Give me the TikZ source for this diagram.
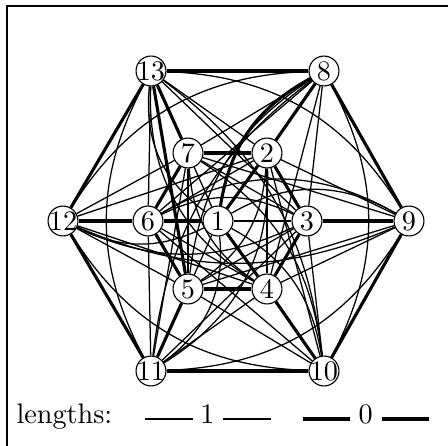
\documentclass[tikz,border=0pt]{standalone}
\pgfdeclarelayer{bg}
\pgfsetlayers{bg,main}
\begin{document}
\begin{tikzpicture}[x=0.3546pt,y=0.3546pt,
  v/.style={circle,draw,fill=white,minimum size=10.6pt,inner sep=0pt,line width=0.4pt},
  e1/.style={line width=0.45pt},
  e0/.style={line width=1.1pt},
  frame/.style={line width=0.75pt}]
\useasboundingbox (0,0) rectangle (448,-446);
\draw[frame] (7,-470) -- (7,-6) -- (470,-6);
\node[v] (n1) at (218,-221) {\makebox[0pt]{1}};
\node[v] (n2) at (267,-153) {\makebox[0pt]{2}};
\node[v] (n3) at (307,-221) {\makebox[0pt]{3}};
\node[v] (n4) at (267,-289) {\makebox[0pt]{4}};
\node[v] (n5) at (188,-289) {\makebox[0pt]{5}};
\node[v] (n6) at (148,-221) {\makebox[0pt]{6}};
\node[v] (n7) at (188,-153) {\makebox[0pt]{7}};
\node[v] (n8) at (324,-71) {\makebox[0pt]{8}};
\node[v] (n9) at (409,-221) {\makebox[0pt]{9}};
\node[v] (n10) at (324,-371) {\makebox[0pt]{10}};
\node[v] (n11) at (151,-371) {\makebox[0pt]{11}};
\node[v] (n12) at (63,-221) {\makebox[0pt]{12}};
\node[v] (n13) at (151,-71) {\makebox[0pt]{13}};
\begin{pgfonlayer}{bg}
% thick, straight
\foreach \a/\b in {13/8,8/9,9/10,10/11,11/12,12/13,2/8,3/9,4/10,5/11,6/12,7/13,2/3,3/4,4/5,5/6,6/7,7/2,1/2,1/4,1/6,13/5}
  \draw[e0] (n\a) -- (n\b);
% thin, straight
\foreach \a/\b in {1/3,1/5,1/7,2/4,2/6,4/6,3/5,3/7,5/7,
  7/8,7/9,7/11,7/12, 2/9,2/10,2/12,2/13, 3/8,3/10,3/11,3/13,
  4/8,4/9,4/11,4/12, 5/9,5/10,5/12, 6/8,6/10,6/11,6/13}
  \draw[e1] (n\a) -- (n\b);
% thick, bent
\draw[e0] (n8) to[bend right=26] (n1);
% thin, bent: row 12-6-1-3-9 and its rotations by 120 degrees
\foreach \a/\b/\t in {12/1/26,12/3/25,12/9/23,
  8/5/25,8/11/23,
  10/1/26,10/7/25,10/13/23}
  \draw[e1] (n\a) to[bend right=\t] (n\b);
\foreach \a/\b/\t in {6/9/30,1/9/30,6/3/26,
  2/11/30,1/11/30,2/5/26,
  4/13/30,1/13/30,4/7/26}
  \draw[e1] (n\a) to[bend left=\t] (n\b);
% outer vertices two apart, bulging outward
\foreach \a/\b in {13/11,11/9,9/13,12/10,10/8,8/12}
  \draw[e1] (n\a) to[bend right=28] (n\b);
\end{pgfonlayer}
% legend
\node[anchor=base west,inner sep=0pt] (lg) at (16,-424) {lengths:};
\node[anchor=base,inner sep=0pt] (l1) at (207.5,-424) {1};
\node[anchor=base,inner sep=0pt] (l0) at (365.8,-424) {0};
\coordinate (a1) at (145,-419); \coordinate (b1) at (193,-419);
\coordinate (c1) at (223,-419); \coordinate (d1) at (271,-419);
\coordinate (a0) at (303,-419); \coordinate (b0) at (350,-419);
\coordinate (c0) at (382,-419); \coordinate (d0) at (429,-419);
\draw[e1] (a1) -- (b1); \draw[e1] (c1) -- (d1);
\draw[e0] (a0) -- (b0); \draw[e0] (c0) -- (d0);
\end{tikzpicture}
\end{document}
